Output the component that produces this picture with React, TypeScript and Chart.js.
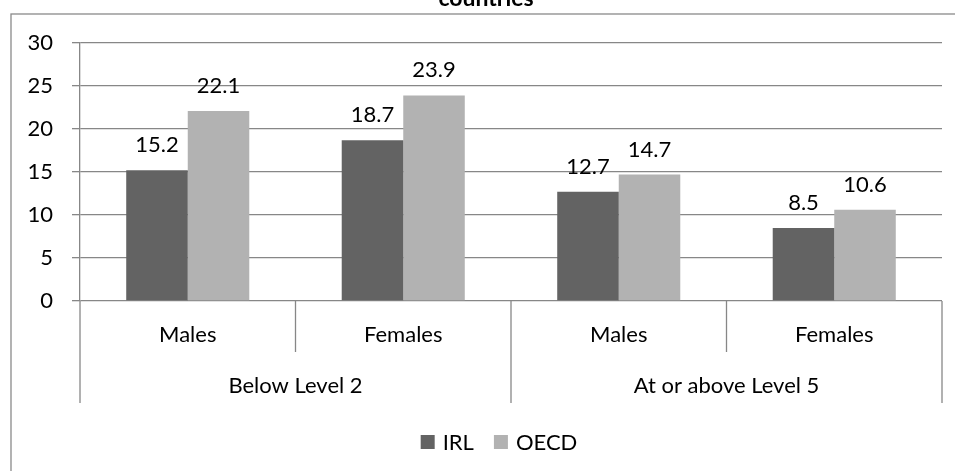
import React, { useEffect, useRef } from "react";
import { Chart, registerables } from "chart.js";

Chart.register(...registerables);

const subCategories = ["Males", "Females", "Males", "Females"];
const groupLabels = ["Below Level 2", "At or above Level 5"];
const seriesNames = ["IRL", "OECD"];
const irlValues = [15.2, 18.7, 12.7, 8.5];
const oecdValues = [22.1, 23.9, 14.7, 10.6];
const yTicks = [0, 5, 10, 15, 20, 25, 30];
const titleText = "countries";

const FONT = "Lato, 'Noto Sans', sans-serif";
const IRL_COLOR = "#636363";
const OECD_COLOR = "#b2b2b2";
const GRID = "#878787";

const overlayPlugin = {
  id: "overlay",
  beforeDraw(chart: any) {
    const ctx = chart.ctx;
    ctx.save();
    ctx.fillStyle = "#ffffff";
    ctx.fillRect(0, 0, chart.width, chart.height);
    ctx.strokeStyle = "#8a8a8a";
    ctx.lineWidth = 1.3;
    ctx.strokeRect(11, 14, 964, 480);
    ctx.fillStyle = "#000";
    ctx.font = "bold 23px " + FONT;
    ctx.textAlign = "center";
    ctx.textBaseline = "alphabetic";
    ctx.fillText(titleText, 486, 6);
    ctx.restore();
  },
  afterDatasetsDraw(chart: any) {
    const ctx = chart.ctx;
    const xs = chart.scales.x;
    const area = chart.chartArea;
    ctx.save();
    // value labels
    ctx.fillStyle = "#000";
    ctx.font = "22px " + FONT;
    ctx.textAlign = "center";
    ctx.textBaseline = "alphabetic";
    chart.data.datasets.forEach((ds: any, di: number) => {
      const meta = chart.getDatasetMeta(di);
      meta.data.forEach((bar: any, i: number) => {
        ctx.fillText(String(ds.data[i].toFixed(1)), bar.x, bar.y - 18);
      });
    });
    // category axis
    const n = subCategories.length;
    const px = (i: number) => xs.getPixelForValue(i);
    const bounds: number[] = [area.left];
    for (let i = 0; i < n - 1; i++) bounds.push((px(i) + px(i + 1)) / 2);
    bounds.push(area.right);
    ctx.strokeStyle = GRID;
    ctx.lineWidth = 1.3;
    const perGroup = n / groupLabels.length;
    bounds.forEach((b, i) => {
      const outer = i % perGroup === 0;
      ctx.beginPath();
      ctx.moveTo(b, area.bottom);
      ctx.lineTo(b, area.bottom + (outer ? 102 : 51));
      ctx.stroke();
    });
    ctx.textBaseline = "middle";
    subCategories.forEach((c, i) => {
      ctx.fillText(c, px(i), area.bottom + 34);
    });
    groupLabels.forEach((g, gi) => {
      const cx = (bounds[gi * perGroup] + bounds[(gi + 1) * perGroup]) / 2;
      ctx.fillText(g, cx, area.bottom + 85);
    });
    // legend
    const colors = [IRL_COLOR, OECD_COLOR];
    const sq = 14, gap = 8, itemGap = 20;
    const widths = seriesNames.map((s) => ctx.measureText(s).width);
    const total = widths.reduce((a, w) => a + sq + gap + w, 0) + itemGap * (seriesNames.length - 1);
    let lx = 499 - total / 2;
    const ly = 442;
    ctx.textAlign = "left";
    seriesNames.forEach((s, i) => {
      ctx.fillStyle = colors[i];
      ctx.fillRect(lx, ly - sq / 2, sq, sq);
      ctx.fillStyle = "#000";
      ctx.fillText(s, lx + sq + gap, ly + 1);
      lx += sq + gap + widths[i] + itemGap;
    });
    ctx.restore();
  },
};

export default function App() {
  const ref = useRef<HTMLCanvasElement | null>(null);
  useEffect(() => {
    if (!ref.current) return;
    const chart = new Chart(ref.current, {
      type: "bar",
      data: {
        labels: subCategories,
        datasets: [
          { label: seriesNames[0], data: irlValues, backgroundColor: IRL_COLOR, barPercentage: 1, categoryPercentage: 0.571 },
          { label: seriesNames[1], data: oecdValues, backgroundColor: OECD_COLOR, barPercentage: 1, categoryPercentage: 0.571 },
        ],
      },
      options: {
        animation: false,
        responsive: false,
        devicePixelRatio: 1,
        layout: { padding: { top: 43, right: 13, left: 0, bottom: 0 } },
        plugins: { legend: { display: false }, title: { display: false }, tooltip: { enabled: false } },
        scales: {
          x: {
            ticks: { display: false },
            grid: { display: false, drawTicks: false },
            border: { display: false },
            afterFit: (s: any) => { s.height = 170; },
          },
          y: {
            min: 0,
            max: 30,
            afterBuildTicks: (s: any) => { s.ticks = yTicks.map((v) => ({ value: v })); },
            ticks: { font: { family: FONT, size: 22 }, color: "#000", padding: 19 },
            grid: { color: GRID, lineWidth: 1.3, tickLength: 8, drawTicks: true, tickColor: GRID },
            border: { display: true, color: GRID, width: 1.3 },
            afterFit: (s: any) => { s.width = 80; },
          },
        },
      },
      plugins: [overlayPlugin],
    });
    return () => chart.destroy();
  }, []);
  return (
    <div style={{ position: "fixed", left: 0, top: 0, width: 955, height: 471, background: "#fff" }}>
      <canvas ref={ref} width={955} height={471} style={{ width: 955, height: 471, display: "block" }} />
    </div>
  );
}
